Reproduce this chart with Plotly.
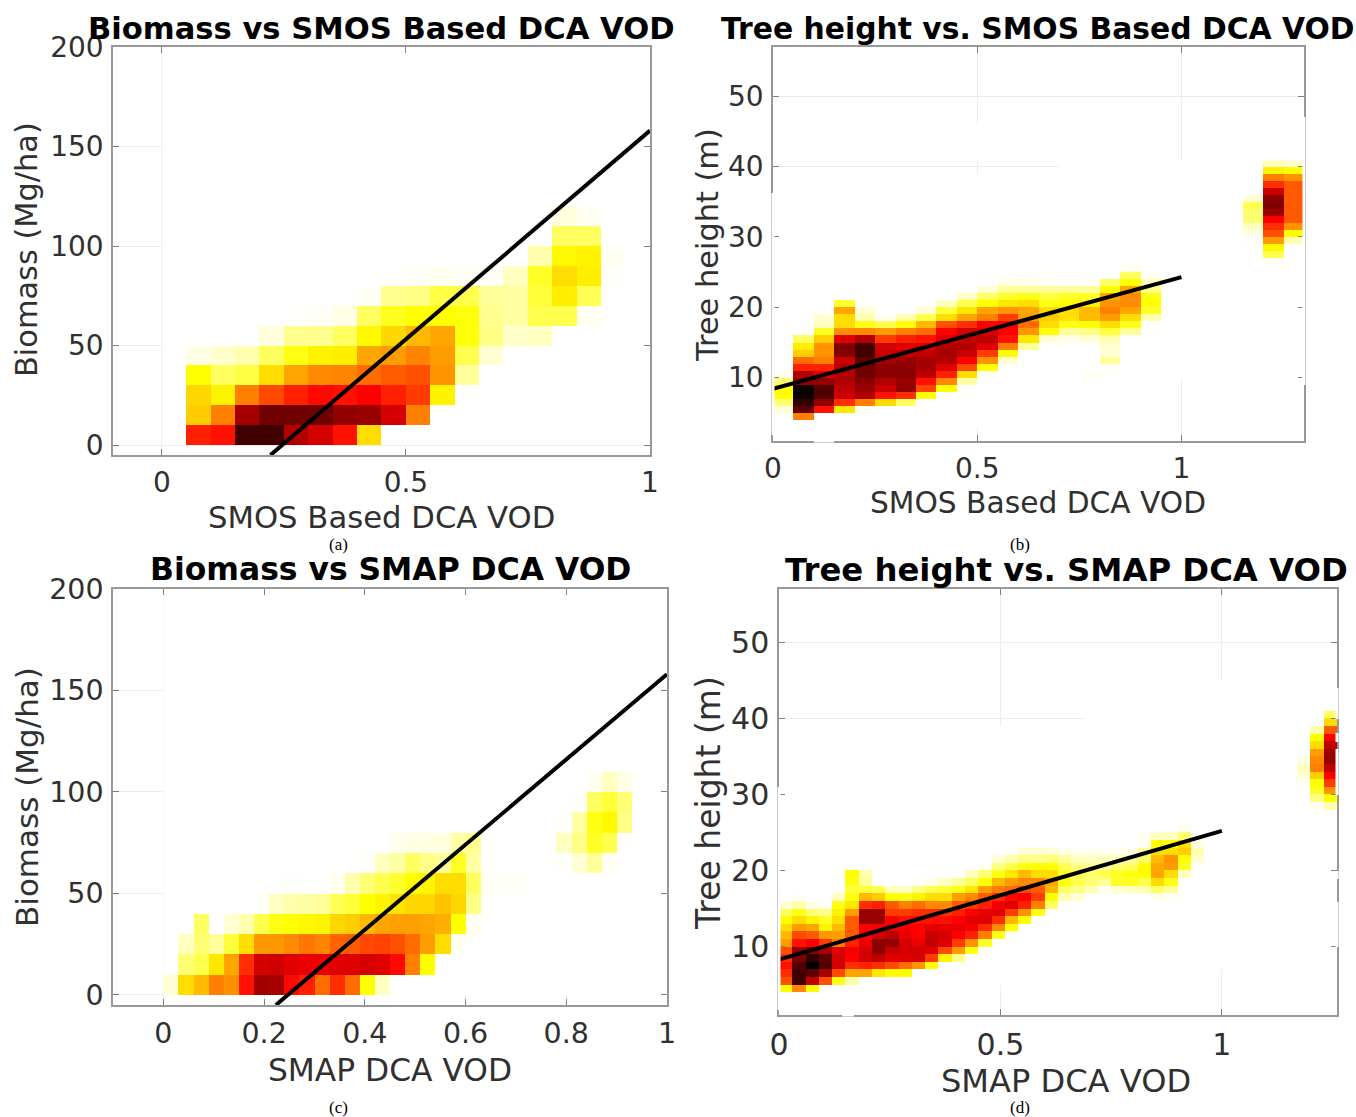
import numpy as np
import plotly.graph_objects as go

# ---- Panel (a): Biomass vs SMOS. Each row (10 Mg/ha bin from y=0) = (first x-bin index, values)
a_rows = [
 (1, [62,64,95,95,80,74,64,36]),
 (1, [38,50,82,90,90,90,85,84,74,50]),
 (1, [37,32,50,56,62,65,64,66,62,58,32]),
 (1, [30,20,23,36,42,48,49,52,54,55,46,14]),
 (1, [6,9,12,20,28,32,33,42,44,49,44,22,8]),
 (4, [7,15,15,20,31,37,40,42,29,16,9,10]),
 (5, [1,3,6,20,27,30,30,29,15,13,22,22,4]),
 (8, [4,15,16,23,22,14,13,24,33,21]),
 (10, [3,5,3,3,10,26,36,33,2]),
 (15, [12,31,32,4]),
 (16, [20,20]),
 (16, [7,4]),
]
a_line_x = [0.2226, 1.0]
a_line_y = [-5, 158]

# ---- Panel (b): Tree height vs SMOS. Each column (0.05 bin) = (lowest height, values per 1 m)
b_cols = [
 (5, [8,18,30,30,18,4]),
 (4, [50,92,96,99,99,85,80,62,52,38,33,20]),
 (5, [64,85,93,93,85,72,62,50,46,46,38,27,10,8,2]),
 (5, [34,60,75,78,80,80,80,76,87,88,72,47,36,36,42,25]),
 (5, [4,50,80,84,86,90,90,92,95,95,80,48,28,12,8]),
 (6, [36,64,76,80,86,86,82,76,74,58,44,22,5]),
 (6, [20,60,85,84,86,86,84,76,72,62,50,30,12]),
 (7, [29,56,64,78,82,82,78,72,64,52,40,22,8]),
 (8, [30,48,62,72,80,82,80,72,66,55,36,24,10]),
 (9, [13,36,56,66,76,80,76,74,60,42,34,22,10]),
 (10, [4,30,46,58,72,78,72,66,50,42,30,20,8]),
 (12, [8,30,50,64,66,66,58,46,34,26,14,6]),
 (14, [14,34,46,52,44,42,36,28,14,6]),
 (15, [8,30,36,38,36,28,24,14,3]),
 (15, [6,14,28,35,36,30,26,14,2]),
 (10, [4,0,0,0,0,8,16,30,40,40,33,26,14,3]),
 (11, [4,14,8,8,12,24,36,44,50,46,42,30,20]),
 (16, [14,28,36,42,48,48,42,30,20,5]),
 (18, [12,26,30,28,16,10,4]),
 (0, []), (0, []), (0, []), (0, []),
 (29, [2,6,10,18,18,22,8]),
 (26, [3,22,31,44,55,60,66,84,88,86,76,60,50,32,10]),
 (29, [12,30,46,54,54,54,54,54,54,46,30,8]),
]
b_line_x = [0.0, 1.0]
b_line_y = [8.4, 24.3]

# ---- Panel (c): Biomass vs SMAP. Each row (10 Mg/ha) = (first x-bin index of 0.03, values)
c_rows = [
 (0, [8,36,40,50,47,64,83,82,65,62,52,60,52,30,10]),
 (1, [18,22,34,42,60,74,75,72,70,70,72,72,74,72,65,50,30]),
 (1, [10,18,14,24,36,45,45,48,51,49,53,54,56,57,55,52,44,36,4]),
 (2, [20,0,8,12,22,28,30,31,32,37,38,40,42,43,43,42,41,30,4]),
 (6, [2,10,12,13,14,21,24,30,32,35,37,37,39,37,16,1]),
 (8, [2,0,0,5,12,18,22,25,30,32,36,36,20,3,3,4]),
 (13, [2,10,13,20,16,14,26,13,1,0,0,0,0,2,8,14,3]),
 (15, [5,6,6,7,13,15,0,0,0,0,0,10,16,26,22]),
 (26, [2,13,28,31,16]),
 (27, [3,20,24,18]),
 (28, [5,10,6]),
]
c_line_x = [0.2234, 1.0]
c_line_y = [-5, 158]

# ---- Panel (d): Tree height vs SMAP. Each column (0.03 bin) = (lowest height, values per 1 m)
d_cols = [
 (4, [30,55,60,64,60,55,44,40,36,30,20,8]),
 (4, [48,95,95,93,88,84,64,56,44,36,28,12,4]),
 (4, [30,78,92,100,96,86,66,54,42,32,18,6]),
 (5, [55,82,93,92,82,58,45,32,26,16,4]),
 (5, [28,56,74,74,72,50,44,40,36,32,28,10]),
 (5, [12,42,60,66,68,62,54,54,54,44,34,28,24,28,30]),
 (6, [42,62,74,74,70,66,66,84,84,60,40,24,14,12]),
 (6, [34,60,78,86,86,74,68,84,84,62,38,22]),
 (6, [30,56,72,76,85,78,68,66,58,54,30,10]),
 (6, [30,52,72,74,74,70,68,64,58,50,28,10]),
 (7, [46,74,74,70,66,66,64,60,52,32,16,4]),
 (7, [30,58,72,78,76,70,64,60,48,36,22,6]),
 (8, [32,56,72,74,70,64,60,48,36,24,10]),
 (8, [16,44,58,66,70,66,62,54,44,28,14,2]),
 (9, [28,46,62,68,72,66,58,48,34,20,10]),
 (10, [26,50,60,72,70,62,54,44,30,18,5]),
 (11, [28,48,60,72,68,60,50,40,28,16,8]),
 (11, [3,30,40,58,72,65,52,44,34,22,12,4]),
 (13, [30,46,62,66,56,48,40,28,16,8]),
 (14, [28,50,58,54,48,36,30,16,8]),
 (15, [20,30,40,42,36,30,18,8]),
 (16, [12,20,28,26,22,14,6]),
 (16, [8,16,22,20,16,10,5]),
 (17, [12,18,18,14,10,5]),
 (17, [4,14,22,14,10,5]),
 (17, [8,26,26,18,10,5]),
 (17, [10,26,28,20,13,6]),
 (17, [12,22,30,30,20,14,5,5]),
 (16, [6,20,36,42,42,40,36,30,10]),
 (16, [3,14,28,36,44,46,36,28,10]),
 (19, [10,26,30,38,36,18,6]),
 (21, [8,12,6]),
 (0, []), (0, []), (0, []), (0, []), (0, []), (0, []), (0, []),
 (31, [3,8,10,6]),
 (28, [5,16,26,30,38,50,48,44,36,30,12]),
 (28, [12,30,46,58,66,78,84,84,78,66,54,36,20]),
]
d_line_x = [0.0, 1.0]
d_line_y = [8.3, 25.2]

titles = ["Biomass vs SMOS Based DCA VOD", "Tree height vs. SMOS Based DCA VOD",
          "Biomass vs SMAP DCA VOD", "Tree height vs. SMAP DCA VOD"]
xlabels = ["SMOS Based DCA VOD", "SMOS Based DCA VOD", "SMAP DCA VOD", "SMAP DCA VOD"]
ylabels = ["Biomass (Mg/ha)", "Tree height (m)", "Biomass (Mg/ha)", "Tree height (m)"]
captions = ["(a)", "(b)", "(c)", "(d)"]

biomass_ticks = [0, 50, 100, 150, 200]
height_ticks = [10, 20, 30, 40, 50]
vod_ticks = [0, 0.5, 1]
smap_ticks = [0, 0.2, 0.4, 0.6, 0.8, 1]

hot = [[0, "#ffffff"], [0.05, "#fffff0"], [0.10, "#ffffc0"], [0.20, "#ffff60"], [0.30, "#ffff00"],
       [0.37, "#ffd700"], [0.42, "#ffa500"], [0.50, "#ff8000"], [0.55, "#ff5000"], [0.62, "#ff2000"],
       [0.66, "#ff0000"], [0.75, "#d00000"], [0.83, "#a00000"], [0.90, "#700000"], [0.95, "#400000"],
       [1, "#000000"]]

W, H = 1356, 1117
FRAME = "#999999"
TXT = "#303030"


def from_rows(rows, nx, ny):
    z = np.zeros((ny, nx))
    for r, (s, vals) in enumerate(rows):
        z[r, s:s + len(vals)] = vals
    return z


def from_cols(cols, nx, ny, ybase):
    z = np.zeros((ny, nx))
    for c, (s, vals) in enumerate(cols):
        for i, v in enumerate(vals):
            z[s - ybase + i, c] = v
    return z


def open_windows(z, xe, ye, boxes):
    """Blank the image where the axes grid shows through: (xmin, xmax, ymin, ymax)."""
    z = z.copy()
    xc = (xe[:-1] + xe[1:]) / 2
    yc = (ye[:-1] + ye[1:]) / 2
    for a, b, c, d in boxes:
        z[np.ix_((yc > c) & (yc < d), (xc > a) & (xc < b))] = np.nan
    return z


xe_b = np.arange(27) * 0.05
xe_d = np.arange(43) * 0.03
ye_h = np.arange(57) + 1.0
z_b = open_windows(from_cols(b_cols, 26, 56, 1), xe_b, ye_h,
                   [(0, 1.3, 46, 57), (0, 0.7, 39, 41), (0.95, 1.05, 41, 46), (0.97, 1.28, 1, 10),
                    (0.4, 0.6, 1, 3)])
z_d = open_windows(from_cols(d_cols, 42, 56, 1), xe_d, ye_h,
                   [(0, 1.26, 45, 57), (0, 0.69, 39, 45), (0.96, 1.04, 1, 7.5), (0.46, 0.54, 1, 5)])

panels = [
    dict(z=from_rows(a_rows, 20, 20), xe=np.arange(21) * 0.05, ye=np.arange(21) * 10.0,
         lx=a_line_x, ly=a_line_y, box=(113, 650, 47, 455), xr=[-0.1, 1], yr=[-5, 200],
         xt=vod_ticks, yt=biomass_ticks, ttl=(381, 28), xl=(381, 517), yl=(26, 250), cap=(338, 544),
         fs=(30.6, 30.7, 30.4, 28)),
    dict(z=z_b, xe=xe_b, ye=ye_h,
         lx=b_line_x, ly=b_line_y, box=(773, 1304, 47, 441), xr=[0, 1.3], yr=[1, 57],
         xt=vod_ticks, yt=height_ticks, ttl=(1038, 28), xl=(1038, 502), yl=(707, 245), cap=(1020, 544),
         fs=(29.8, 29.7, 30.4, 28)),
    dict(z=from_rows(c_rows, 34, 20), xe=np.arange(35) * 0.03, ye=np.arange(21) * 10.0,
         lx=c_line_x, ly=c_line_y, box=(113, 667, 589, 1005), xr=[-0.1, 1], yr=[-5, 200],
         xt=smap_ticks, yt=biomass_ticks, ttl=(390, 569), xl=(390, 1070), yl=(27, 797), cap=(338, 1107),
         fs=(31.4, 31.3, 31, 28.5)),
    dict(z=z_d, xe=xe_d, ye=ye_h,
         lx=d_line_x, ly=d_line_y, box=(779, 1337, 589, 1015), xr=[0, 1.26], yr=[1, 57],
         xt=vod_ticks, yt=height_ticks, ttl=(1066, 570), xl=(1066, 1081), yl=(708, 803), cap=(1020, 1107),
         fs=(32.3, 32.1, 33, 30)),
]

# Frame stretches the source image paints over: (x0, x1, y0, y1) in page pixels
frame_gaps = [
    (1304, 1304, 117, 385), (773, 773, 193, 435), (814, 834, 441, 441),
    (1337, 1337, 688, 719), (1337, 1337, 733, 742), (1337, 1337, 749, 795),
    (1337, 1337, 871, 879), (1337, 1337, 902, 947), (779, 779, 787, 1010), (842, 854, 1015, 1015),
]

fig = go.Figure()
ann = []


def note(text, pos, **kw):
    ann.append(dict(text=text, x=pos[0] / W, y=1 - pos[1] / H, xref="paper", yref="paper",
                    xanchor="center", yanchor="middle", showarrow=False, **kw))


for i, p in enumerate(panels):
    n = "" if i == 0 else str(i + 1)
    fig.add_trace(go.Heatmap(z=p["z"], x=p["xe"], y=p["ye"], colorscale=hot, zmin=0, zmax=100,
                             showscale=False, xaxis="x" + n, yaxis="y" + n, hoverinfo="skip"))
    fig.add_trace(go.Scatter(x=p["lx"], y=p["ly"], mode="lines", line=dict(color="black", width=4),
                             xaxis="x" + n, yaxis="y" + n, showlegend=False))
    x0, x1, y0, y1 = p["box"]
    f_t, f_x, f_y, f_tick = p["fs"]
    common = dict(showline=True, linecolor=FRAME, linewidth=1.5, mirror="allticks", ticks="inside", ticklen=6,
                  tickcolor="#808080", tickfont=dict(family="DejaVu Sans", size=f_tick, color=TXT),
                  zeroline=False, showgrid=True, gridcolor="#ededed", gridwidth=1)
    fig.update_layout(**{
        "xaxis" + n: dict(domain=[x0 / W, x1 / W], range=p["xr"], tickmode="array", tickvals=p["xt"],
                          ticktext=[f"{t:g}" for t in p["xt"]], anchor="y" + n, ticklabelstandoff=2, **common),
        "yaxis" + n: dict(domain=[1 - y1 / H, 1 - y0 / H], range=p["yr"], tickmode="array", tickvals=p["yt"],
                          anchor="x" + n, ticklabelstandoff=2, **common),
    })
    note(f"<b>{titles[i]}</b>", p["ttl"], font=dict(family="DejaVu Sans", size=f_t, color="black"))
    note(xlabels[i], p["xl"], font=dict(family="DejaVu Sans", size=f_x, color=TXT))
    note(ylabels[i], p["yl"], textangle=-90, font=dict(family="DejaVu Sans", size=f_y, color=TXT))
    note(captions[i], p["cap"], font=dict(family="Liberation Serif", size=17, color="black"))

shapes = [dict(type="line", xref="paper", yref="paper", x0=a / W, x1=b / W, y0=1 - c / H, y1=1 - d / H,
               line=dict(color="white", width=3)) for a, b, c, d in frame_gaps]

fig.update_layout(width=W, height=H, margin=dict(l=0, r=0, t=0, b=0, autoexpand=False), paper_bgcolor="white",
                  plot_bgcolor="white", showlegend=False, annotations=ann, shapes=shapes)
fig.write_html("out.html", post_script="document.body.style.margin='0';",
               config={"displayModeBar": False})
